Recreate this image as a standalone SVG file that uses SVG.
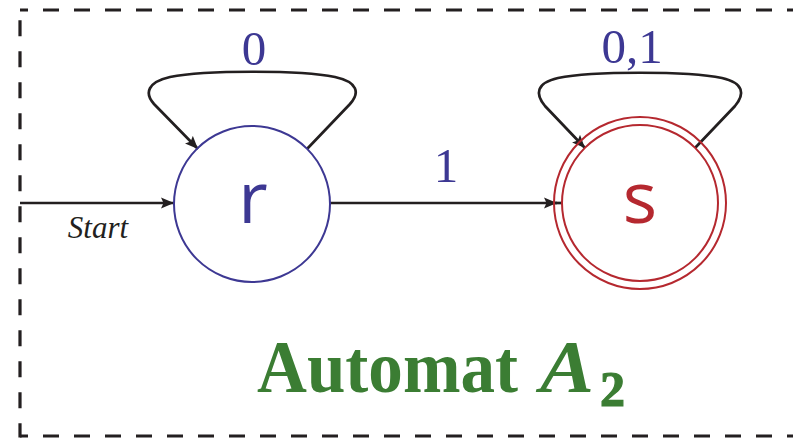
<svg xmlns="http://www.w3.org/2000/svg" width="793" height="439" viewBox="0 0 793 439">
  <style>
    .frame { fill: none; stroke: #231f20; stroke-width: 3.2; stroke-dasharray: 16 15; }
    .edge { fill: none; stroke: #231f20; stroke-width: 2.7; }
    .lbl { font-family: "Liberation Serif", "Times New Roman", serif; font-size: 49px; fill: #3d3893; text-anchor: middle; }
    .start { font-family: "Liberation Serif", "Times New Roman", serif; font-style: italic; font-size: 31px; fill: #231f20; text-anchor: middle; }
    .state { font-family: "Open Sans", "Liberation Sans", sans-serif; font-size: 72px; text-anchor: middle; }
    .title { font-family: "Liberation Serif", "Times New Roman", serif; font-weight: bold; fill: #3b7d33; }
  </style>
  <defs>
    <marker id="arr" markerUnits="userSpaceOnUse" markerWidth="14" markerHeight="12" refX="13" refY="6" orient="auto">
      <path d="M0,0.5 L13,6 L0,11.5 L2.5,6 z" fill="#231f20"/>
    </marker>
  </defs>
  <rect width="793" height="439" fill="#ffffff"/>
  <g id="frame">
    <path class="frame" d="M20,10 H800" stroke-dashoffset="8"/>
    <path class="frame" d="M20,436 H800" stroke-dashoffset="8"/>
    <path class="frame" d="M20,437.6 V10" stroke-dashoffset="1.6"/>
  </g>
  <g id="connectors">
    <path id="start" class="edge" d="M20,203 H174" marker-end="url(#arr)"/>
    <text class="start" x="98" y="238">Start</text>
    <path id="r-r" class="edge" d="M307,149 L350,104 C360,93 358,82 335,77 C300,70 205,70 170,77 C148,82 144,93 154,104 L198,149" marker-end="url(#arr)"/>
    <text class="lbl" x="254" y="65">0</text>
    <path id="r-s" class="edge" d="M330,203 H557" marker-end="url(#arr)"/>
    <path class="edge" d="M555,203 H562"/>
    <text class="lbl" x="446" y="182">1</text>
    <path id="s-s" class="edge" d="M695,148 L735,106 C745,94 744,83 722,78 C688,71 592,71 558,78 C536,83 535,94 545,106 L585,148" marker-end="url(#arr)"/>
    <text class="lbl" x="632" y="63">0,1</text>
  </g>
  <g id="node-r">
    <circle cx="252" cy="204" r="78" fill="none" stroke="#3d3893" stroke-width="2"/>
    <text class="state" x="253" y="223" fill="#3d3893">r</text>
  </g>
  <g id="node-s">
    <circle cx="640" cy="203" r="86" fill="none" stroke="#b5282f" stroke-width="2"/>
    <circle cx="640" cy="203" r="78" fill="none" stroke="#b5282f" stroke-width="2"/>
    <text class="state" x="640" y="223" fill="#b5282f">s</text>
  </g>
  <g id="title">
    <text class="title" x="257" y="392" font-size="74" textLength="261" lengthAdjust="spacingAndGlyphs">Automat</text>
    <text class="title" x="540" y="392" font-size="74" font-style="italic" textLength="54" lengthAdjust="spacingAndGlyphs">A</text>
    <text class="title" x="600" y="406" font-size="50" font-weight="normal" stroke="#3b7d33" stroke-width="1.2">2</text>
  </g>
</svg>
